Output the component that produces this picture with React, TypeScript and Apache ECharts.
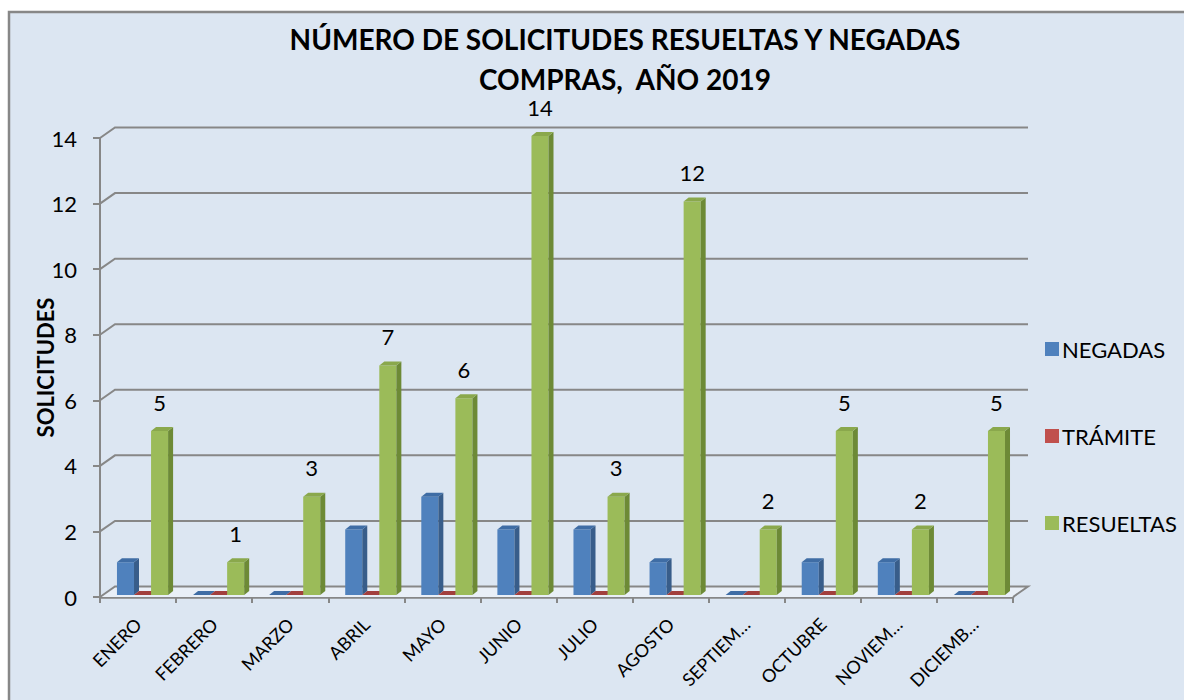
import React, { useEffect, useRef } from "react";
import * as echarts from "echarts";

const months = ["ENERO", "FEBRERO", "MARZO", "ABRIL", "MAYO", "JUNIO", "JULIO", "AGOSTO", "SEPTIEM…", "OCTUBRE", "NOVIEM…", "DICIEMB…"];
const negadas = [1, 0, 0, 2, 3, 2, 2, 1, 0, 1, 1, 0];
const tramite = [0, 0, 0, 0, 0, 0, 0, 0, 0, 0, 0, 0];
const resueltas = [5, 1, 3, 7, 6, 14, 3, 12, 2, 5, 2, 5];
const yTicks = [0, 2, 4, 6, 8, 10, 12, 14];
const seriesNames = ["NEGADAS", "TRÁMITE", "RESUELTAS"];
const titleLines = ["NÚMERO DE SOLICITUDES RESUELTAS Y NEGADAS", "COMPRAS,  AÑO 2019"];

const FONT = "Lato, 'DejaVu Sans', sans-serif";
const GRID_COLOR = "#878787";
const WALL_DX = 15;
const WALL_DY = 10.5;
const BAR_DX = 5;
const BAR_DY = 4;
const BAR_W = 0.224;
const OFFSETS = [-0.277, -0.053, 0.171];

const palettes = [
  { front: "#4F81BD", side: "#385D8A", top: "#3F6DA5" },
  { front: "#C0504D", side: "#8C3836", top: "#A23F3D" },
  { front: "#9BBB59", side: "#6D8A36", top: "#8AA84C" },
];

function barSeries(name: string, data: number[], sIdx: number, withLabel: boolean) {
  const pal = palettes[sIdx];
  return {
    type: "custom",
    name,
    coordinateSystem: "cartesian2d",
    clip: false,
    z: 3,
    itemStyle: { color: pal.front },
    data: data.map((v, i) => [i, v]),
    renderItem: (params: any, api: any) => {
      const idx = api.value(0);
      const val = api.value(1);
      const top = api.coord([idx, val]);
      const base = api.coord([idx, 0]);
      const bw = api.size([1, 0])[0];
      const x0 = top[0] + OFFSETS[sIdx] * bw;
      const w = BAR_W * bw;
      const yb = base[1] - 2;
      const yt = top[1] - 2;
      const children: any[] = [];
      if (val > 0) {
        children.push({
          type: "rect",
          shape: { x: x0, y: yt, width: w, height: yb - yt },
          style: { fill: pal.front },
        });
        children.push({
          type: "polygon",
          shape: { points: [[x0 + w, yt], [x0 + w + BAR_DX, yt - BAR_DY], [x0 + w + BAR_DX, yb - BAR_DY], [x0 + w, yb]] },
          style: { fill: pal.side },
        });
      }
      children.push({
        type: "polygon",
        shape: { points: [[x0, yt], [x0 + BAR_DX, yt - BAR_DY], [x0 + w + BAR_DX, yt - BAR_DY], [x0 + w, yt]] },
        style: { fill: pal.top },
      });
      if (withLabel) {
        children.push({
          type: "text",
          style: {
            text: String(val),
            x: x0 + w / 2,
            y: yt - 29,
            fill: "#000",
            fontSize: 22,
            fontFamily: FONT,
            align: "center",
            verticalAlign: "middle",
          },
        });
      }
      return { type: "group", children };
    },
  };
}

export default function App() {
  const ref = useRef<HTMLDivElement>(null);
  useEffect(() => {
    if (!ref.current) return;
    const chart = echarts.init(ref.current, undefined, { renderer: "svg" });
    const option: any = {
      animation: false,
      backgroundColor: "#ffffff",
      textStyle: { fontFamily: FONT },
      graphic: [
        {
          type: "rect",
          z: -10,
          shape: { x: 9, y: 12, width: 1300, height: 800 },
          style: { fill: "#DCE6F2", stroke: GRID_COLOR, lineWidth: 2.5 },
        },
        {
          type: "text",
          z: 10,
          style: { text: titleLines[0], x: 625, y: 39, fill: "#000", fontSize: 28, fontWeight: "bold", fontFamily: FONT, align: "center", verticalAlign: "middle" },
        },
        {
          type: "text",
          z: 10,
          style: { text: titleLines[1], x: 625, y: 79, fill: "#000", fontSize: 28, fontWeight: "bold", fontFamily: FONT, align: "center", verticalAlign: "middle" },
        },
      ],
      grid: { left: 100, right: 171, top: 138, bottom: 103, containLabel: false },
      legend: {
        orient: "vertical",
        left: 1040,
        top: 332,
        itemWidth: 14,
        itemHeight: 14,
        itemGap: 63,
        icon: "rect",
        textStyle: { fontSize: 22, color: "#000", fontFamily: FONT, lineHeight: 24, padding: [0, 0, 0, -2] },
        data: seriesNames.map((n, i) => ({ name: n, itemStyle: { color: palettes[i].front } })),
      },
      xAxis: {
        type: "category",
        data: months,
        boundaryGap: true,
        axisLine: { show: true, lineStyle: { color: GRID_COLOR, width: 2.5 } },
        axisTick: { show: true, length: 6, lineStyle: { color: GRID_COLOR, width: 2 } },
        axisLabel: { rotate: 45, margin: 24, fontSize: 18, color: "#000", fontFamily: FONT, interval: 0 },
        splitLine: { show: false },
      },
      yAxis: {
        type: "value",
        min: 0,
        max: 14,
        interval: 2,
        name: "SOLICITUDES",
        nameLocation: "middle",
        nameRotate: 90,
        nameGap: 44,
        nameMoveOverlap: false,
        nameTextStyle: { fontSize: 22, fontWeight: "bold", color: "#000", fontFamily: FONT },
        axisLine: { show: true, lineStyle: { color: GRID_COLOR, width: 2 } },
        axisTick: { show: true, length: 7, lineStyle: { color: GRID_COLOR, width: 2 } },
        axisLabel: { margin: 23, fontSize: 22, color: "#000", fontFamily: FONT },
        splitLine: { show: false },
      },
      series: [
        {
          type: "custom",
          name: "wall",
          coordinateSystem: "cartesian2d",
          clip: false,
          silent: true,
          z: 1,
          data: yTicks.map((v) => [0, v]),
          renderItem: (params: any, api: any) => {
            const v = api.value(1);
            const y = api.coord([0, v])[1];
            const cs = params.coordSys;
            const xL = cs.x;
            const xR = cs.x + cs.width;
            const children: any[] = [];
            if (v === 0) {
              children.push({
                type: "polygon",
                shape: { points: [[xL, y], [xL + WALL_DX, y - WALL_DY], [xR + WALL_DX, y - WALL_DY], [xR, y]] },
                style: { fill: "#E9EFF7" },
              });
              children.push({
                type: "polyline",
                shape: { points: [[xL, y], [xL + WALL_DX, y - WALL_DY], [xR + WALL_DX, y - WALL_DY], [xR, y]] },
                style: { stroke: GRID_COLOR, lineWidth: 2, fill: "none" },
              });
            } else {
              children.push({
                type: "polyline",
                shape: { points: [[xL, y], [xL + WALL_DX, y - WALL_DY], [xR + WALL_DX, y - WALL_DY]] },
                style: { stroke: GRID_COLOR, lineWidth: 2, fill: "none" },
              });
            }
            return { type: "group", children };
          },
        },
        barSeries(seriesNames[0], negadas, 0, false),
        barSeries(seriesNames[1], tramite, 1, false),
        barSeries(seriesNames[2], resueltas, 2, true),
      ],
    };
    chart.setOption(option);
    return () => chart.dispose();
  }, []);
  return <div ref={ref} style={{ position: "fixed", left: 0, top: 0, width: 1184, height: 700 }} />;
}
